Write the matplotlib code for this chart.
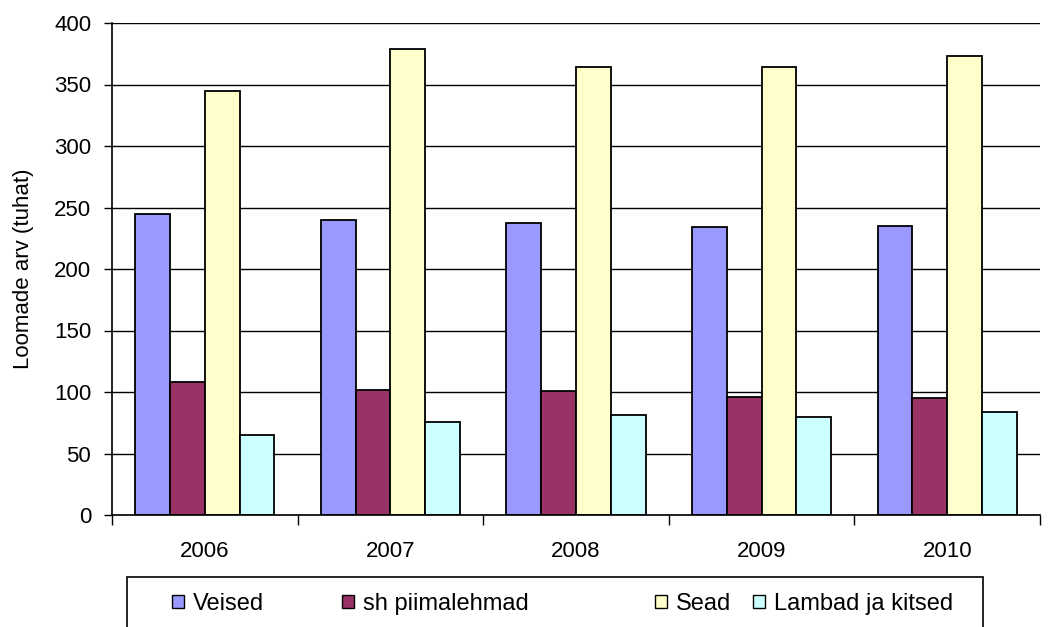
import matplotlib
matplotlib.use("Agg")
import matplotlib.pyplot as plt
from matplotlib.patches import Patch, Rectangle
import numpy as np

plt.rcParams['font.family'] = ['Liberation Sans', 'DejaVu Sans']

years = ['2006', '2007', '2008', '2009', '2010']
series = ['Veised', 'sh piimalehmad', 'Sead', 'Lambad ja kitsed']
veised = [245, 240, 237, 234, 235]
piimalehmad = [108, 102, 101, 96, 95]
sead = [345, 379, 364, 364, 373]
lambad = [65, 76, 81, 80, 84]
colors = ['#9999FF', '#993366', '#FFFFCC', '#CCFFFF']

fig = plt.figure(figsize=(10.56, 6.27), dpi=100)
W, H = 1056, 627
ax = fig.add_axes([112 / W, 1 - 515 / H, 928 / W, (515 - 23) / H])

x = np.arange(len(years))
bw = 0.75 / 4
values = [veised, piimalehmad, sead, lambad]
for i, (vals, c) in enumerate(zip(values, colors)):
    ax.bar(x - 0.375 + bw * (i + 0.5), vals, bw, color=c, edgecolor='black',
           linewidth=1.3, zorder=3)

ax.set_xlim(-0.5, len(years) - 0.5)
ax.set_ylim(0, 400)
ax.set_yticks(range(0, 401, 50))
ax.yaxis.grid(True, color='black', linewidth=1, zorder=0)
ax.tick_params(axis='y', direction='out', length=6, width=1, labelsize=16, pad=9)

# category boundaries as major ticks, labels on minor ticks
ax.set_xticks(np.arange(-0.5, len(years), 1.0))
ax.set_xticklabels([])
ax.set_xticks(x, minor=True)
ax.set_xticklabels(years, minor=True)
ax.tick_params(axis='x', which='major', direction='out', length=7, width=1)
ax.tick_params(axis='x', which='minor', length=0, labelsize=16, pad=19)

for s in ['top', 'right']:
    ax.spines[s].set_visible(False)
for s in ['left', 'bottom']:
    ax.spines[s].set_color('black')
    ax.spines[s].set_linewidth(1.2)
    ax.spines[s].set_zorder(4)

ax.set_ylabel('Loomade arv (tuhat)', fontsize=16, labelpad=14)

# legend box below the plot
fig.patches.append(Rectangle((127 / W, -0.01), (983 - 127) / W, 1 - 577 / H + 0.01,
                             transform=fig.transFigure, fill=False,
                             edgecolor='black', linewidth=1.2))
marker_x = [172, 342, 655, 753]
for name, c, mx in zip(series, colors, marker_x):
    fig.legend(handles=[Patch(facecolor=c, edgecolor='black', linewidth=1)],
               labels=[name], loc='center left',
               bbox_to_anchor=(mx / W, 1 - 604 / H), frameon=False,
               fontsize=17, borderpad=0, borderaxespad=0,
               handlelength=0.5, handleheight=0.5, handletextpad=0.4)

fig.savefig('out.png', dpi=100)
